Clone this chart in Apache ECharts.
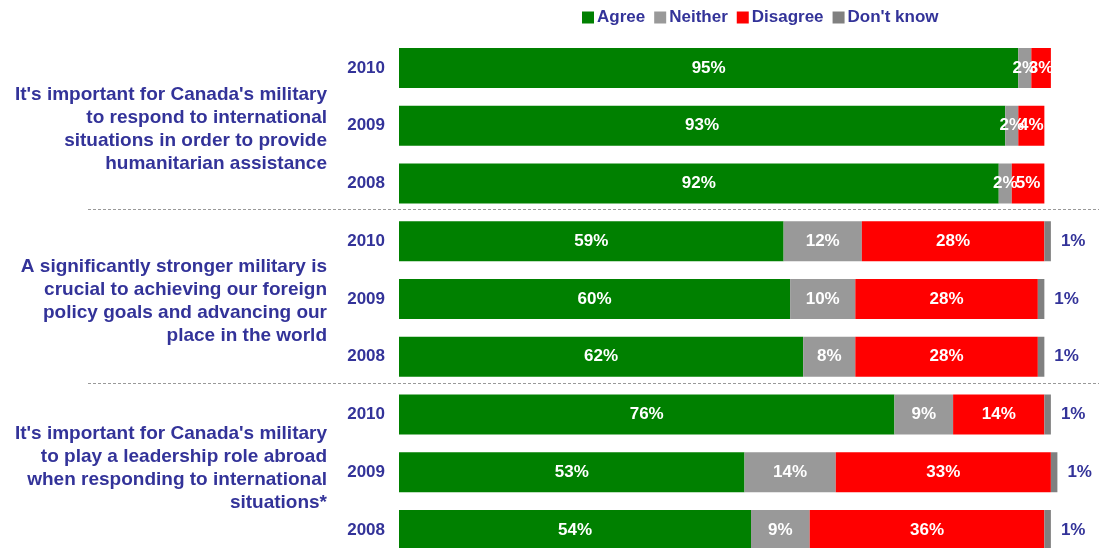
<!DOCTYPE html>
<html>
<head>
<meta charset="utf-8">
<script src="https://cdn.jsdelivr.net/npm/echarts@6/dist/echarts.min.js"></script>
<style>
  html, body { margin: 0; padding: 0; background: #fff; }
  #chart { width: 1099px; height: 548px; }
</style>
</head>
<body>
<div id="chart"></div>
<script>
// Survey rows, top to bottom: three statements, each asked in 2010, 2009, 2008
const years = ['2010', '2009', '2008', '2010', '2009', '2008', '2010', '2009', '2008'];
const statements = [
  "It's important for Canada's military\nto respond to international\nsituations in order to provide\nhumanitarian assistance",
  "A significantly stronger military is\ncrucial to achieving our foreign\npolicy goals and advancing our\nplace in the world",
  "It's important for Canada's military\nto play a leadership role abroad\nwhen responding to international\nsituations*"
];
const seriesNames = ['Agree', 'Neither', 'Disagree', "Don't know"];
const agree     = [95, 93, 92, 59, 60, 62, 76, 53, 54];
const neither   = [2, 2, 2, 12, 10, 8, 9, 14, 9];
const disagree  = [3, 4, 5, 28, 28, 28, 14, 33, 36];
const dontKnow  = [0, 0, 0, 1, 1, 1, 1, 1, 1];
const colors = ['#008000', '#999999', '#ff0000', '#808080'];

const FONT = '"Liberation Sans", Arial, sans-serif';
const BLUE = '#333399';

const chart = echarts.init(document.getElementById('chart'), null, { renderer: 'canvas' });

const pct = p => p.value ? p.value + '%' : '';

const allValues = [agree, neither, disagree, dontKnow];
const series = allValues.map((vals, i) => ({
  name: seriesNames[i],
  type: 'bar',
  stack: 'total',
  barWidth: 40,
  clip: false,
  itemStyle: { color: colors[i] },
  label: i < 3 ? {
    show: true,
    position: 'inside',
    color: '#fff',
    fontFamily: FONT,
    fontWeight: 'bold',
    fontSize: 17,
    formatter: pct
  } : {
    show: true,
    position: 'right',
    distance: 10,
    color: BLUE,
    fontFamily: FONT,
    fontWeight: 'bold',
    fontSize: 17,
    formatter: pct
  },
  emphasis: { disabled: true },
  data: vals
}));

chart.setOption({
  animation: false,
  legend: {
    data: seriesNames,
    left: 577,
    top: 4,
    itemWidth: 12,
    itemHeight: 12,
    itemGap: 9,
    icon: 'rect',
    textStyle: { color: BLUE, fontFamily: FONT, fontWeight: 'bold', fontSize: 17, padding: [0, 0, 0, -2] }
  },
  // rows sit on the axis ticks, so the first and last bars are centred on the grid edges
  grid: { left: 399, top: 68, width: 691, height: 462 },
  xAxis: {
    type: 'value', min: 0, max: 106,
    show: false, splitLine: { show: false }
  },
  yAxis: {
    type: 'category',
    inverse: true,
    boundaryGap: false,
    data: years,
    axisLine: { show: false },
    axisTick: { show: false },
    splitLine: { show: false },
    axisLabel: {
      margin: 14,
      color: BLUE,
      fontFamily: FONT,
      fontWeight: 'bold',
      fontSize: 17
    }
  },
  series: series
});

// Statement captions and dashed group dividers, placed from the category axis
function yOf(idx) { return chart.convertToPixel({ yAxisIndex: 0 }, idx); }
const captionShift = [4, 2, -4];
const graphics = [];
statements.forEach((text, g) => {
  const cy = yOf(g * 3 + 1);
  graphics.push({
    type: 'text',
    x: 327,
    y: cy + captionShift[g],
    style: {
      text: text,
      align: 'right',
      verticalAlign: 'middle',
      fill: BLUE,
      font: 'bold 19px ' + FONT,
      lineHeight: 23
    },
    silent: true
  });
});
[1, 2].forEach(g => {
  const y = Math.round((yOf(g * 3 - 1) + yOf(g * 3)) / 2) - 3 + 0.5;
  graphics.push({
    type: 'line',
    shape: { x1: 88, y1: y, x2: 1099, y2: y },
    style: { stroke: '#999999', lineWidth: 1, lineDash: [3, 2] },
    silent: true
  });
});
chart.setOption({ graphic: graphics });
</script>
</body>
</html>
